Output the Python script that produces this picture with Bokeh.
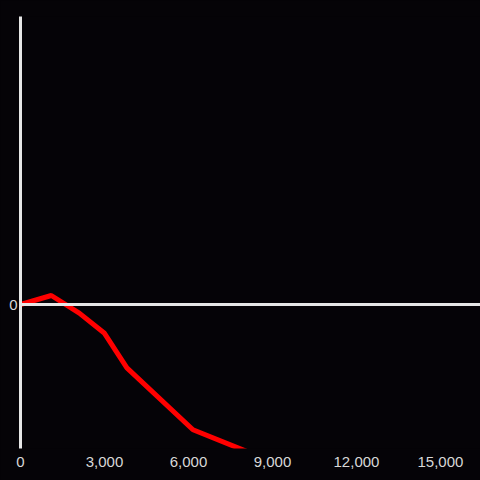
from bokeh.plotting import figure
from bokeh.models import Span, FixedTicker, NumeralTickFormatter, Range1d
from bokeh.embed import file_html
from bokeh.resources import INLINE

x_vals = [0, 1100, 2100, 3000, 3800, 6160, 8080]
y_vals = [0.0, 0.0625, -0.06, -0.20, -0.44, -0.87, -1.02]
x_ticks = [0, 3000, 6000, 9000, 12000, 15000]
y_ticks = [0]

BG = "#050307"
p = figure(width=480, height=480, output_backend="svg", toolbar_location=None,
           x_range=Range1d(0, 16430), y_range=Range1d(-1, 2),
           min_border_left=20, min_border_right=0, min_border_top=16, min_border_bottom=32)
p.styles = {"background-color": BG}
p.background_fill_color = BG
p.border_fill_color = BG
p.outline_line_color = None
p.grid.visible = False

p.line(x_vals, y_vals, line_color="#ff0000", line_width=5, line_join="bevel")

p.add_layout(Span(location=0, dimension="width", line_color="#e6e6e6", line_width=3))

xa = p.xaxis[0]
xa.ticker = FixedTicker(ticks=x_ticks)
xa.formatter = NumeralTickFormatter(format="0,0")
xa.axis_line_color = None
xa.major_tick_line_color = None
xa.minor_tick_line_color = None
xa.major_label_text_color = "#d8d8d8"
xa.major_label_text_font = "Liberation Sans"
xa.major_label_text_font_size = "15px"
xa.major_label_standoff = 2

ya = p.yaxis[0]
ya.ticker = FixedTicker(ticks=y_ticks)
ya.axis_line_color = "#e6e6e6"
ya.axis_line_width = 3
ya.major_tick_line_color = None
ya.minor_tick_line_color = None
ya.major_tick_out = 0
ya.major_label_text_color = "#d8d8d8"
ya.major_label_text_font = "Liberation Sans"
ya.major_label_text_font_size = "15px"
ya.major_label_standoff = 3

open("out.html", "w").write(file_html(p, INLINE))
